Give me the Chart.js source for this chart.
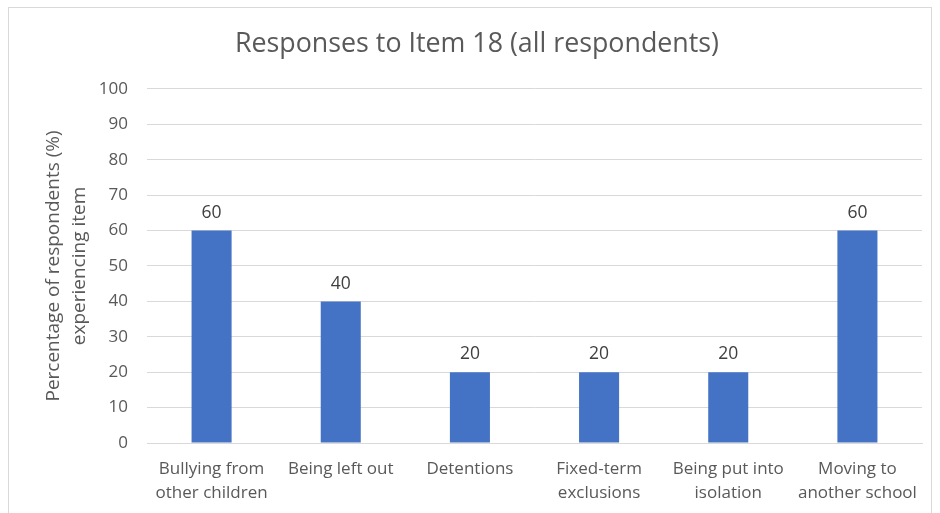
<!DOCTYPE html>
<html>
<head>
<meta charset="utf-8">
<script src="https://cdn.jsdelivr.net/npm/chart.js@4"></script>
<style>
  html, body { margin: 0; padding: 0; background: #fff; }
  #wrap { position: relative; width: 940px; height: 513px; overflow: hidden; }
  #frame { position: absolute; left: 8px; top: 7px; width: 924px; height: 540px; border: 1px solid #d9d9d9; box-sizing: border-box; }
  canvas { position: absolute; left: 0; top: 0; }
</style>
</head>
<body>
<div id="wrap">
  <div id="frame"></div>
  <canvas id="chart" width="940" height="513"></canvas>
</div>
<script>
const categories = [
  ['Bullying from', 'other children'],
  'Being left out',
  'Detentions',
  ['Fixed-term', 'exclusions'],
  ['Being put into', 'isolation'],
  ['Moving to', 'another school']
];
const percentages = [60, 40, 20, 20, 20, 60];
const yTicks = { min: 0, max: 100, step: 10 };

const FONT = '"Open Sans", "Liberation Sans", sans-serif';
const GREY = '#595959';

// simple value labels above each bar
const barLabels = {
  id: 'barLabels',
  afterDatasetsDraw(chart) {
    const ctx = chart.ctx;
    const meta = chart.getDatasetMeta(0);
    ctx.save();
    ctx.font = '17.5px ' + FONT;
    ctx.fillStyle = '#404040';
    ctx.textAlign = 'center';
    ctx.textBaseline = 'bottom';
    meta.data.forEach((bar, i) => {
      ctx.fillText(String(percentages[i]), bar.x, bar.y - 9);
    });
    ctx.restore();
  }
};

new Chart(document.getElementById('chart').getContext('2d'), {
  type: 'bar',
  data: {
    labels: categories,
    datasets: [{
      data: percentages,
      backgroundColor: '#4472c4',
      barPercentage: 0.31,
      categoryPercentage: 1
    }]
  },
  plugins: [barLabels],
  options: {
    responsive: false,
    animation: false,
    layout: { padding: { left: 32, right: 18, top: 0, bottom: 0 } },
    scales: {
      x: {
        grid: { display: false },
        border: { color: '#d9d9d9', width: 1 },
        ticks: {
          color: GREY,
          font: { family: FONT, size: 17, lineHeight: 1.42 },
          padding: 6,
          maxRotation: 0,
          autoSkip: false
        },
        afterFit: (scale) => { scale.height = 70; }
      },
      y: {
        min: yTicks.min,
        max: yTicks.max,
        grid: { color: '#d9d9d9', lineWidth: 1, drawTicks: false },
        border: { display: false },
        ticks: {
          stepSize: yTicks.step,
          color: GREY,
          font: { family: FONT, size: 17 },
          padding: 19
        },
        title: {
          display: true,
          text: ['Percentage of respondents (%)', 'experiencing item'],
          color: GREY,
          font: { family: FONT, size: 19, lineHeight: 1.35 },
          padding: { top: 9, bottom: 0 }
        },
        afterFit: (scale) => { scale.width = 115; }
      }
    },
    plugins: {
      legend: { display: false },
      tooltip: { enabled: false },
      title: {
        display: true,
        text: 'Responses to Item 18 (all respondents)',
        color: GREY,
        font: { family: FONT, size: 26.8, weight: 'normal', lineHeight: 1.2 },
        padding: { top: 28, bottom: 28.8 }
      }
    }
  }
});
</script>
</body>
</html>
